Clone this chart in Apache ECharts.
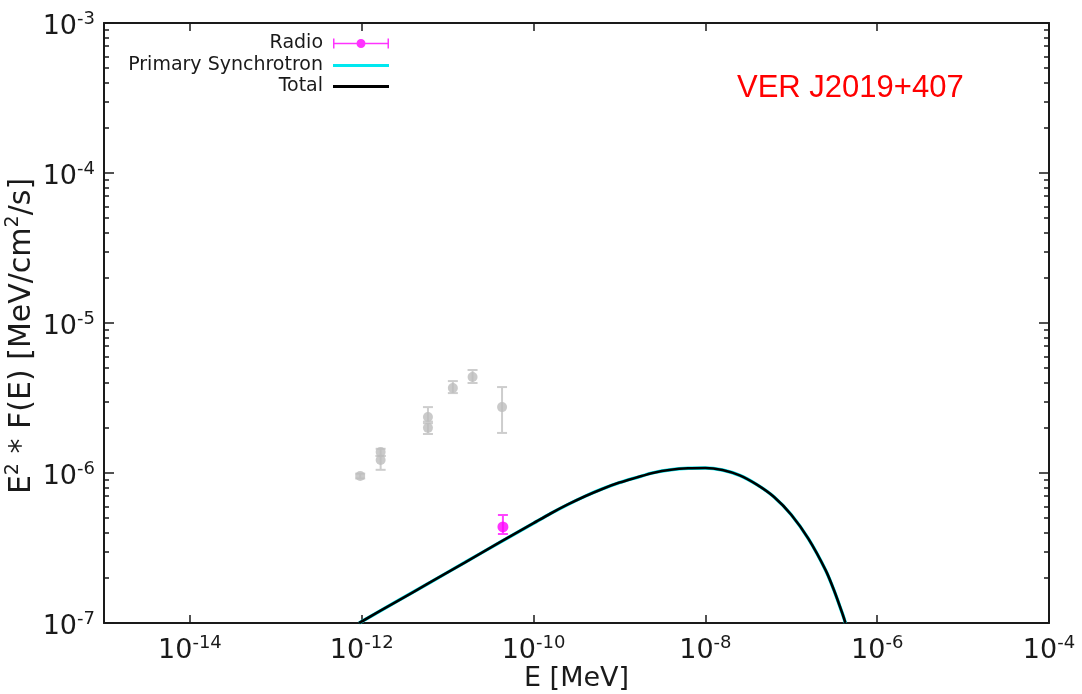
<!DOCTYPE html>
<html lang="en" style="height: 100%">
<head>
  <meta charset="utf-8">
  <style>
    body { margin: 0; background: #ffffff; }
  </style>
</head>
<body style="height: 100%; margin: 0">
  <div id="container" style="width: 1082px; height: 694px"></div>

  <script type="text/javascript" src="https://cdn.jsdelivr.net/npm/echarts@6/dist/echarts.min.js"></script>

  <script type="text/javascript">
    // energies in MeV, fluxes as E^2 F(E) in MeV/cm^2/s
    var curveE = [9.33e-13, 2.51e-12, 6.31e-12, 1.58e-11, 3.98e-11, 1.0e-10, 1.58e-10, 2.51e-10,
                  3.98e-10, 6.31e-10, 1.0e-9, 1.58e-9, 2.51e-9, 3.98e-9, 6.31e-9, 1.0e-8,
                  1.58e-8, 2.51e-8, 3.98e-8, 6.31e-8, 1.0e-7, 1.58e-7, 2.51e-7, 3.16e-7,
                  3.98e-7, 4.27e-7];
    var curveF = [1.0e-7, 1.384e-7, 1.871e-7, 2.53e-7, 3.43e-7, 4.63e-7, 5.37e-7, 6.17e-7,
                  7.0e-7, 7.83e-7, 8.63e-7, 9.33e-7, 1.005e-6, 1.052e-6, 1.076e-6, 1.081e-6,
                  1.047e-6, 9.64e-7, 8.36e-7, 6.92e-7, 5.27e-7, 3.65e-7, 2.25e-7, 1.64e-7,
                  1.135e-7, 1.0e-7];

    // other radio measurements (grey)
    var greyE  = [9.6e-13, 1.66e-12, 1.66e-12, 5.9e-12, 5.9e-12, 1.15e-11, 1.95e-11, 4.3e-11];
    var greyF  = [9.55e-7, 1.38e-6, 1.22e-6, 2.36e-6, 2.0e-6, 3.69e-6, 4.37e-6, 2.75e-6];
    var greyLo = [9.2e-7, 1.30e-6, 1.05e-6, 2.2e-6, 1.82e-6, 3.41e-6, 3.98e-6, 1.85e-6];
    var greyHi = [9.9e-7, 1.45e-6, 1.30e-6, 2.75e-6, 2.15e-6, 4.1e-6, 4.86e-6, 3.74e-6];

    // radio point
    var radioE  = [4.4e-11];
    var radioF  = [4.37e-7];
    var radioLo = [3.92e-7];
    var radioHi = [5.25e-7];

    var xTicks = [1e-14, 1e-12, 1e-10, 1e-8, 1e-6, 1e-4];
    var yTicks = [1e-7, 1e-6, 1e-5, 1e-4, 1e-3];
    var yMinor = [];
    for (var n = -7; n < -3; n++) {
      for (var m = 2; m < 10; m++) yMinor.push(m * Math.pow(10, n));
    }

    var font = 'DejaVu Sans';
    var ink = '#1a1a1a';

    function pts(xs, ys) {
      return xs.map(function (x, i) { return [x, ys[i]]; });
    }
    function bars(xs, lo, hi) {
      return xs.map(function (x, i) { return [x, lo[i], hi[i]]; });
    }
    function errorBars(color, cap) {
      return function (params, api) {
        var lo = api.coord([api.value(0), api.value(1)]);
        var hi = api.coord([api.value(0), api.value(2)]);
        function seg(x1, y1, x2, y2) {
          return { type: 'line', shape: { x1: x1, y1: y1, x2: x2, y2: y2 },
                   style: { stroke: color, lineWidth: 2 } };
        }
        return { type: 'group', children: [
          seg(lo[0], lo[1], hi[0], hi[1]),
          seg(lo[0] - cap, lo[1], lo[0] + cap, lo[1]),
          seg(hi[0] - cap, hi[1], hi[0] + cap, hi[1])
        ] };
      };
    }
    function powLabel(v) {
      return '{b|10}{s|' + Math.round(Math.log10(v)) + '}';
    }
    var powRich = {
      b: { fontSize: 27, lineHeight: 33, fontFamily: font, color: ink },
      s: { fontSize: 18, verticalAlign: 'top', fontFamily: font, color: ink }
    };
    var frame = { show: true, onZero: false, lineStyle: { color: ink, width: 2 } };

    function logAxis(extra, lo, hi) {
      var a = {
        type: 'log', logBase: 10, min: lo, max: hi,
        axisLine: frame,
        splitLine: { show: false },
        minorTick: { show: false },
        axisLabel: { show: false }
      };
      for (var k in extra) a[k] = extra[k];
      return a;
    }

    var radioIcon = 'path://M0,5.25h56v1.5h-56z M0,1h1.5v10h-1.5z M54.5,1h1.5v10h-1.5z ' +
                    'M23.5,6a4.5,4.5 0 1,1 9,0a4.5,4.5 0 1,1 -9,0z';
    var legendText = { fontSize: 19, fontFamily: font, color: ink, padding: [0, 5, 0, 0] };

    var myChart = echarts.init(document.getElementById('container'), null, { renderer: 'canvas' });

    var option = {
      animation: false,
      backgroundColor: '#ffffff',
      title: {
        text: 'VER J2019+407',
        left: 737, top: 73, padding: 0,
        textStyle: { color: '#ff0000', fontSize: 31, fontWeight: 'normal', fontFamily: 'Liberation Sans' }
      },
      grid: { left: 104, right: 33, top: 23, bottom: 71, containLabel: false, outerBoundsMode: 'none' },
      legend: [
        { data: ['Radio'], right: 693, top: 34, padding: 0, align: 'right', selectedMode: false,
          icon: radioIcon, itemWidth: 56, itemHeight: 12, textStyle: legendText },
        { data: ['Primary Synchrotron'], right: 693, top: 56, padding: 0, align: 'right', selectedMode: false,
          icon: 'rect', itemWidth: 56, itemHeight: 3, textStyle: legendText },
        { data: ['Total'], right: 693, top: 77, padding: 0, align: 'right', selectedMode: false,
          icon: 'rect', itemWidth: 56, itemHeight: 3, textStyle: legendText }
      ],
      xAxis: [
        logAxis({
          position: 'bottom',
          name: 'E [MeV]', nameLocation: 'middle', nameGap: 42, nameMoveOverlap: false,
          nameTextStyle: { fontSize: 27, fontFamily: font, color: ink },
          axisTick: { inside: true, length: 8, customValues: xTicks, lineStyle: { color: ink, width: 1.5 } },
          axisLabel: { show: true, customValues: xTicks, margin: 11, formatter: powLabel, rich: powRich }
        }, 1e-15, 1e-4),
        logAxis({
          position: 'top',
          axisTick: { inside: true, length: 8, customValues: xTicks, lineStyle: { color: ink, width: 1.5 } }
        }, 1e-15, 1e-4)
      ],
      yAxis: [
        logAxis({
          position: 'left',
          name: 'E{s|2} * F(E) [MeV/cm{s|2}/s]', nameLocation: 'middle', nameGap: 64, nameRotate: 90,
          nameMoveOverlap: false,
          nameTextStyle: { fontSize: 30, lineHeight: 36, fontFamily: font, color: ink, padding: [0, 26, 0, 0],
            rich: { s: { fontSize: 19, verticalAlign: 'top', fontFamily: font, color: ink } } },
          axisTick: { inside: true, length: 10, customValues: yTicks, lineStyle: { color: ink, width: 1.5 } },
          axisLabel: { show: true, customValues: yTicks, margin: 9, padding: [8, 0, 0, 0],
                       formatter: powLabel, rich: powRich }
        }, 1e-7, 1e-3),
        logAxis({
          position: 'right',
          axisTick: { inside: true, length: 10, customValues: yTicks, lineStyle: { color: ink, width: 1.5 } }
        }, 1e-7, 1e-3),
        logAxis({
          position: 'left', axisLine: { show: false },
          axisTick: { inside: true, length: 5, customValues: yMinor, lineStyle: { color: ink, width: 1.5 } }
        }, 1e-7, 1e-3),
        logAxis({
          position: 'right', axisLine: { show: false },
          axisTick: { inside: true, length: 5, customValues: yMinor, lineStyle: { color: ink, width: 1.5 } }
        }, 1e-7, 1e-3)
      ],
      series: [
        {
          type: 'custom', z: 1, silent: true,
          renderItem: errorBars('#cdcdcd', 5),
          data: bars(greyE, greyLo, greyHi)
        },
        {
          type: 'scatter', z: 2, symbol: 'circle', symbolSize: 10,
          itemStyle: { color: '#bdbdbd' },
          data: pts(greyE, greyF)
        },
        {
          name: 'Primary Synchrotron', type: 'line', z: 3, smooth: 0.3,
          showSymbol: false, symbol: 'none',
          lineStyle: { color: '#00e8f0', width: 3.4 },
          itemStyle: { color: '#00e8f0' },
          data: pts(curveE, curveF)
        },
        {
          name: 'Total', type: 'line', z: 4, smooth: 0.3,
          showSymbol: false, symbol: 'none',
          lineStyle: { color: '#000000', width: 2.6 },
          itemStyle: { color: '#000000' },
          data: pts(curveE, curveF)
        },
        {
          type: 'custom', z: 5, silent: true,
          renderItem: errorBars('#ff44ff', 5),
          data: bars(radioE, radioLo, radioHi)
        },
        {
          name: 'Radio', type: 'scatter', z: 6, symbol: 'circle', symbolSize: 11,
          itemStyle: { color: '#ff00ff' },
          data: pts(radioE, radioF)
        }
      ]
    };

    myChart.setOption(option);
    window.addEventListener('resize', myChart.resize);
  </script>
</body>
</html>
